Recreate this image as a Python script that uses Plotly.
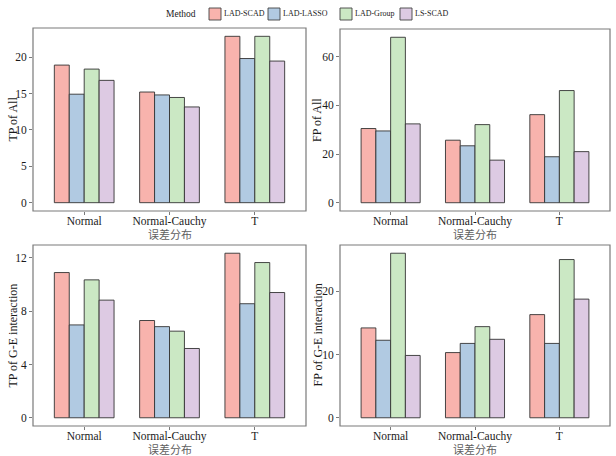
import plotly.graph_objects as go

categories = ["Normal", "Normal-Cauchy", "T"]
methods = ["LAD-SCAD", "LAD-LASSO", "LAD-Group", "LS-SCAD"]
colors = ["#F8B3AD", "#B1CAE2", "#CBE8C4", "#DDCAE3"]

tp_all = {
    "LAD-SCAD": [18.9, 15.2, 22.85],
    "LAD-LASSO": [14.9, 14.8, 19.8],
    "LAD-Group": [18.35, 14.45, 22.85],
    "LS-SCAD": [16.8, 13.15, 19.45],
}
fp_all = {
    "LAD-SCAD": [30.5, 25.7, 36.2],
    "LAD-LASSO": [29.5, 23.4, 18.9],
    "LAD-Group": [68.0, 32.1, 46.1],
    "LS-SCAD": [32.4, 17.5, 21.0],
}
tp_ge = {
    "LAD-SCAD": [10.9, 7.3, 12.35],
    "LAD-LASSO": [6.97, 6.84, 8.56],
    "LAD-Group": [10.35, 6.5, 11.65],
    "LS-SCAD": [8.83, 5.2, 9.4],
}
fp_ge = {
    "LAD-SCAD": [14.2, 10.3, 16.3],
    "LAD-LASSO": [12.25, 11.75, 11.75],
    "LAD-Group": [26.0, 14.4, 25.0],
    "LS-SCAD": [9.85, 12.4, 18.75],
}

panels = [
    (tp_all, "TP of All", [0, 5, 10, 15, 20]),
    (fp_all, "FP of All", [0, 20, 40, 60]),
    (tp_ge, "TP of G-E interaction", [0, 4, 8, 12]),
    (fp_ge, "FP of G-E interaction", [0, 10, 20]),
]
x_title = "误差分布"
legend_title = "Method"

W, H = 616, 456
boxes = [  # left, right, top, bottom in px
    (33, 306, 28, 211),
    (340, 610, 29, 211),
    (33, 306, 245, 426),
    (340, 610, 245, 426),
]
legend_key_left = [209, 268, 340, 400]  # px, left edge of legend keys
key_size = 12
legend_y = 14

fig = go.Figure()
layout = {}
shapes = []
annotations = []
serif = "Liberation Serif, Times New Roman, serif"
frame_col = "#7a7a7a"
for i, (data, ytitle, yticks) in enumerate(panels):
    n = "" if i == 0 else str(i + 1)
    for j, m in enumerate(methods):
        fig.add_trace(go.Bar(
            x=categories, y=data[m], name=m,
            marker=dict(color=colors[j], line=dict(color="#333333", width=0.9)),
            xaxis="x" + n, yaxis="y" + n,
            showlegend=False, legendgroup=m, offsetgroup=str(j),
        ))
    mx = max(max(v) for v in data.values())
    l, r, t, b = boxes[i]
    layout["xaxis" + n] = dict(
        domain=[l / W, r / W], anchor="y" + n,
        range=[-0.6, 2.6], showline=False,
        ticks="outside", ticklen=3, tickcolor=frame_col, tickwidth=1,
        tickfont=dict(family=serif, size=11.5, color="#1a1a1a"),
        ticklabelstandoff=-4,
        showgrid=False, zeroline=False, automargin=False,
    )
    layout["yaxis" + n] = dict(
        domain=[1 - b / H, 1 - t / H], anchor="x" + n,
        range=[-0.05 * mx, 1.05 * mx], tickvals=yticks,
        showline=False,
        ticks="outside", ticklen=3, tickcolor=frame_col, tickwidth=1,
        tickfont=dict(family=serif, size=11.5, color="#1a1a1a"),
        showgrid=False, zeroline=False, automargin=False,
    )
    shapes.append(dict(
        type="rect", xref="x" + n + " domain", yref="y" + n + " domain",
        x0=0, x1=1, y0=0, y1=1, line=dict(color=frame_col, width=1.2),
        fillcolor="rgba(0,0,0,0)", layer="above",
    ))
    annotations.append(dict(
        text=x_title, xref="x" + n + " domain", yref="y" + n + " domain",
        x=0.5, y=0, xanchor="center", yanchor="top", yshift=-13,
        showarrow=False,
        font=dict(family="Noto Sans CJK SC", size=11, color="#606060"),
    ))
    annotations.append(dict(
        text=ytitle, xref="x" + n + " domain", yref="y" + n + " domain",
        x=0, y=0.5, xanchor="center", yanchor="middle",
        xshift=-(l - (12 if i % 2 == 0 else 317)), textangle=-90,
        showarrow=False,
        font=dict(family=serif, size=12, color="#1a1a1a"),
    ))

# legend (ggplot-style: title on the left, keys in one row)
annotations.append(dict(
    text=legend_title, xref="paper", yref="paper", x=181 / W, y=1 - legend_y / H,
    xanchor="center", yanchor="middle", showarrow=False,
    font=dict(family=serif, size=9.5, color="#1a1a1a"),
))
for j, m in enumerate(methods):
    x0 = legend_key_left[j]
    shapes.append(dict(
        type="rect", xref="paper", yref="paper",
        x0=x0 / W, x1=(x0 + key_size) / W,
        y0=1 - (legend_y + key_size / 2) / H, y1=1 - (legend_y - key_size / 2) / H,
        fillcolor=colors[j], line=dict(color="#444444", width=0.9),
    ))
    annotations.append(dict(
        text=m, xref="paper", yref="paper", x=(x0 + key_size + 1) / W,
        y=1 - legend_y / H, xanchor="left", yanchor="middle", showarrow=False,
        font=dict(family=serif, size=8, color="#1a1a1a"),
    ))

fig.update_layout(
    width=W, height=H,
    margin=dict(l=0, r=0, t=0, b=0),
    paper_bgcolor="white", plot_bgcolor="white",
    barmode="group", bargap=0.3, bargroupgap=0,
    showlegend=False,
    shapes=shapes, annotations=annotations,
    **layout,
)

fig.write_html("out.html", config={"displayModeBar": False},
               post_script="document.body.style.margin='0';")
